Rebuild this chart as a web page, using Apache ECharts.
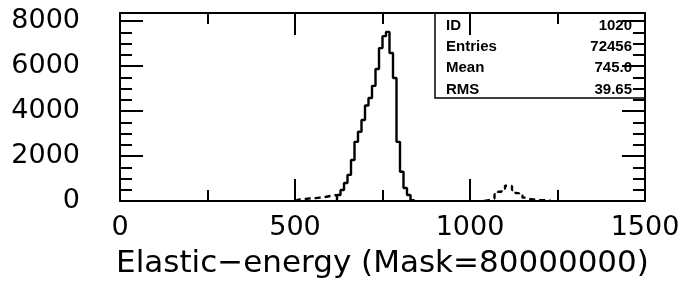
<!DOCTYPE html>
<html>
<head>
<meta charset="utf-8">
<script src="https://cdn.jsdelivr.net/npm/echarts@6/dist/echarts.min.js"></script>
<style>
  html, body { margin: 0; padding: 0; background: #fff; }
  #chart-container { width: 695px; height: 285px; }
</style>
</head>
<body>
<div id="chart-container"></div>
<script>
// histogram bins, 10 units wide
var binWidth = 10;

// main (solid) histogram, first bin starts at 620
var solidStart = 620;
var solidCounts = [270, 490, 800, 1160, 1820, 2630, 3080, 3600, 4250, 4580, 5120,
  5870, 6800, 7330, 7520, 6580, 5470, 2630, 1300, 580, 270, 40];

// dashed histogram: low tail before the peak, and the bump near 1100
var tailStart = 500;
var tailCounts = [60, 70, 90, 110, 120, 130, 150, 170, 190, 220, 250, 260];
var bumpStart = 1040;
var bumpCounts = [30, 60, 120, 300, 410, 550, 680, 660, 490, 350, 250, 150, 90,
  70, 50, 40, 40, 30, 20];

var xTicks = [0, 500, 1000, 1500];
var yTicks = [0, 2000, 4000, 6000, 8000];
var yMax = 8360;

var statLabels = ['ID', 'Entries', 'Mean', 'RMS'];
var statValues = ['1020', '72456', '745.0', '39.65'];

function steps(start, counts, endValue) {
  var pts = [[start, 0]];
  counts.forEach(function (c, i) { pts.push([start + i * binWidth, c]); });
  pts.push([start + counts.length * binWidth, endValue]);
  return pts;
}

var dom = document.getElementById('chart-container');
var myChart = echarts.init(dom, null, { renderer: 'canvas' });

var font = 'DejaVu Sans';
var lineCol = '#000';

function xAx(pos, labels) {
  return {
    type: 'value', position: pos, min: xTicks[0], max: xTicks[xTicks.length - 1],
    interval: 500,
    axisLine: { show: true, onZero: false, lineStyle: { color: lineCol, width: 2 } },
    axisTick: { show: true, inside: true, length: 22, lineStyle: { color: lineCol, width: 2 } },
    minorTick: { show: true, splitNumber: 2, length: 11, lineStyle: { color: lineCol, width: 2 } },
    splitLine: { show: false },
    axisLabel: labels ? {
      show: true, fontFamily: font, fontSize: 27, color: '#000', margin: 13,
      formatter: function (v) { return String(v); }
    } : { show: false },
    name: labels ? 'Elastic\u2212energy (Mask=80000000)' : '',
    nameLocation: 'middle',
    nameGap: 47,
    nameTextStyle: { fontFamily: font, fontSize: 31, color: '#000' }
  };
}

function yAx(pos, major, labels) {
  return {
    type: 'value', position: pos, min: 0, max: yMax,
    interval: major ? 2000 : 500,
    axisLine: { show: major, onZero: false, lineStyle: { color: lineCol, width: 2 } },
    axisTick: { show: true, inside: true, length: major ? 23 : 12, lineStyle: { color: lineCol, width: 2 } },
    splitLine: { show: false },
    axisLabel: labels ? {
      show: true, fontFamily: font, fontSize: 27, color: '#000', margin: 40,
      showMaxLabel: false,
      formatter: function (v) { return yTicks.indexOf(v) >= 0 ? String(v) : ''; }
    } : { show: false }
  };
}

var statFont = 'Liberation Sans';
var statTexts = [];
statLabels.forEach(function (s, i) {
  var y = 24 + i * 21.4;
  statTexts.push({
    type: 'text', left: 446, top: y - 6,
    style: { text: s, fontFamily: statFont, fontWeight: 'bold', fontSize: 15, fill: '#000' }
  });
  statTexts.push({
    type: 'text', right: 63, top: y - 6,
    style: { text: statValues[i], fontFamily: statFont, fontWeight: 'bold', fontSize: 15, fill: '#000' }
  });
});

var option = {
  animation: false,
  backgroundColor: '#fff',
  grid: { left: 120, right: 50, top: 13, bottom: 84 },
  xAxis: [xAx('bottom', true), xAx('top', false)],
  yAxis: [yAx('left', true, true), yAx('left', false, false), yAx('right', true, false), yAx('right', false, false)],
  graphic: [
    {
      type: 'polyline',
      shape: { points: [[435, 13], [435, 98], [645, 98]] },
      style: { stroke: '#000', lineWidth: 1.5, fill: null }
    }
  ].concat(statTexts),
  series: [
    {
      type: 'line', step: 'end', symbol: 'none',
      data: steps(solidStart, solidCounts, 0),
      lineStyle: { color: '#000', width: 2.4 }
    },
    {
      type: 'line', step: 'end', symbol: 'none',
      data: steps(tailStart, tailCounts, solidCounts[0]),
      lineStyle: { color: '#000', width: 2.4, type: [6, 4] }
    },
    {
      type: 'line', step: 'end', symbol: 'none',
      data: steps(bumpStart, bumpCounts, 0),
      lineStyle: { color: '#000', width: 2.4, type: [6, 4] }
    }
  ]
};

myChart.setOption(option);
window.addEventListener('resize', myChart.resize);
</script>
</body>
</html>
